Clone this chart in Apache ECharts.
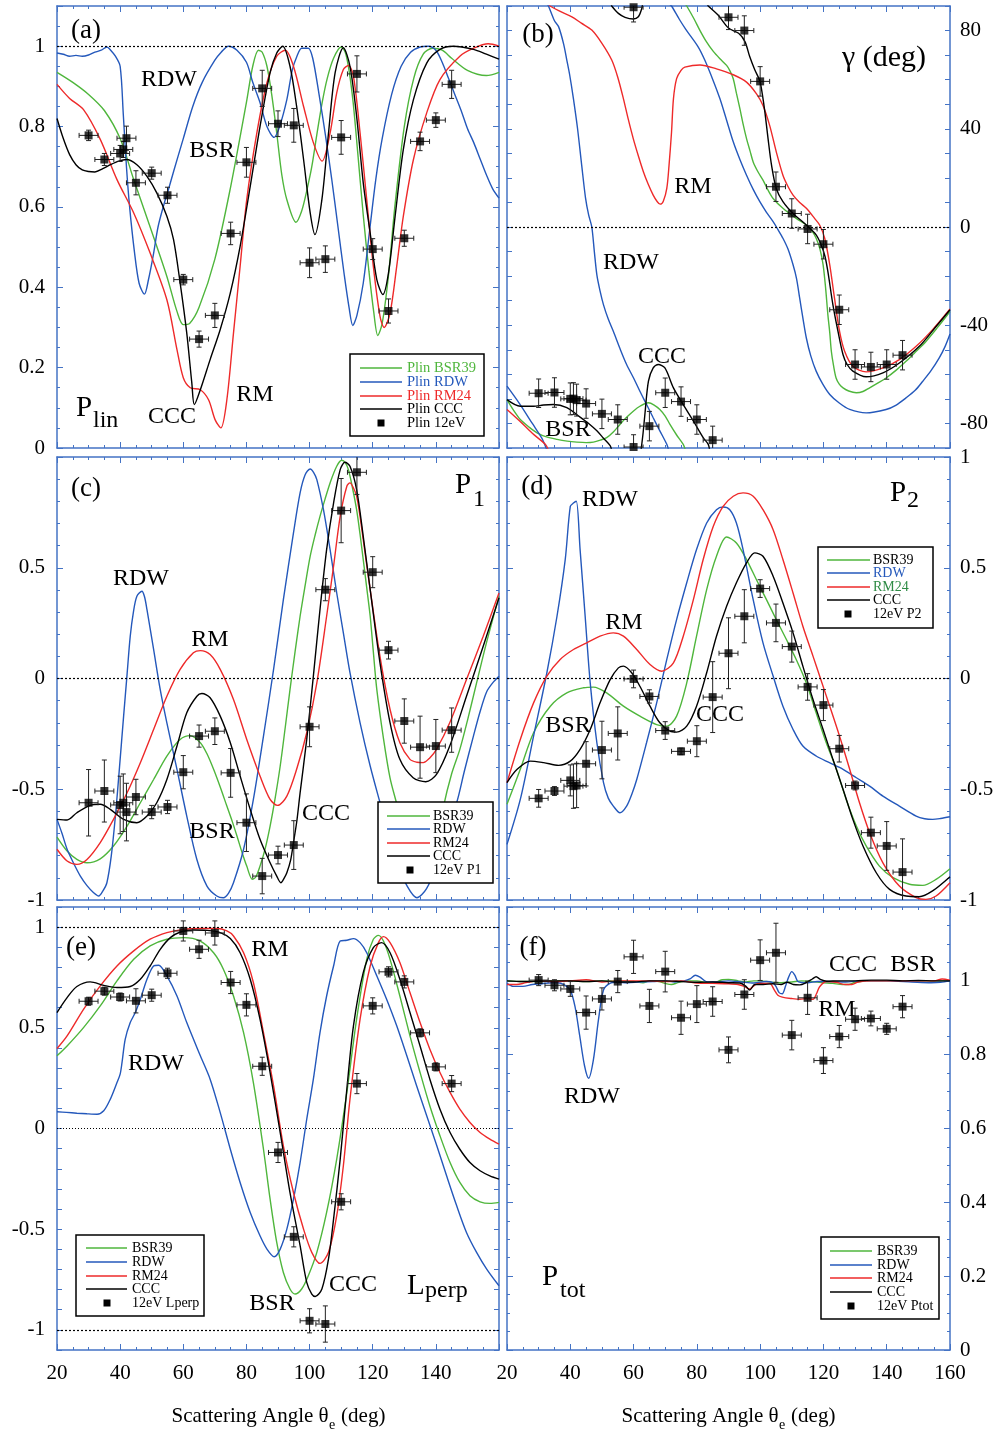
<!DOCTYPE html>
<html>
<head>
<meta charset="utf-8">
<title>Polarization parameters vs scattering angle</title>
<script src="https://cdn.jsdelivr.net/npm/echarts@6/dist/echarts.min.js"></script>
<style>
html,body{margin:0;padding:0;background:#fff;}
#chart{width:998px;height:1436px;}
</style>
</head>
<body>
<div id="chart"></div>
<script>
// ---------------- measured 12 eV points: angle, value, vertical error ----------------
const X_ERR = 3; // angular resolution (deg), drawn as horizontal error bar

const aAng = [30,35,40,41,42,45,50,55,60,65,70,75,80,85,90,95,100,105,110,115,120,125,130,135,140,145];
const aVal = [0.778,0.718,0.733,0.743,0.771,0.66,0.684,0.629,0.419,0.271,0.330,0.534,0.711,0.895,0.807,0.803,0.461,0.470,0.773,0.931,0.495,0.341,0.522,0.763,0.816,0.905];
const aErr = [0.013,0.015,0.02,0.02,0.03,0.03,0.015,0.02,0.013,0.02,0.03,0.028,0.037,0.045,0.032,0.042,0.037,0.033,0.042,0.045,0.026,0.03,0.02,0.023,0.018,0.035];

const bAng = [30,35,40,41,42,45,50,55,60,60,65,70,75,80,85,90,95,100,105,110,115,120,125,130,135,140,145];
const bVal = [-67.7,-67.4,-70.0,-69.9,-70.5,-71.9,-76.1,-78.4,-89.6,89.5,-81.1,-67.5,-71.1,-78.4,-86.8,85.4,80.0,59.3,16.4,5.5,-0.8,-7.0,-33.7,-56.0,-57.0,-56.0,-52.2];
const bErr = [5.8,6,6.5,6.5,6.5,6,6,6,5,6,6,6,6,6,5.7,5,6,6,6,6,6,6,6,6,6,6,6];

const cAng = [30,35,40,41,42,45,50,55,60,65,70,75,80,85,90,95,100,105,110,115,120,125,130,135,140,145];
const cVal = [-0.561,-0.508,-0.571,-0.561,-0.603,-0.535,-0.603,-0.58,-0.423,-0.26,-0.238,-0.426,-0.651,-0.892,-0.797,-0.752,-0.218,0.401,0.758,0.931,0.48,0.128,-0.192,-0.31,-0.305,-0.233];
const cErr = [0.15,0.14,0.13,0.13,0.13,0.08,0.03,0.03,0.075,0.05,0.06,0.11,0.13,0.08,0.04,0.11,0.09,0.05,0.145,0.1,0.07,0.04,0.1,0.14,0.12,0.1];

const dAng = [30,35,40,41,42,45,50,55,60,65,70,75,80,85,90,95,100,105,110,115,120,125,130,135,140,145];
const dVal = [-0.541,-0.508,-0.46,-0.486,-0.483,-0.385,-0.323,-0.248,-0.002,-0.081,-0.235,-0.329,-0.283,-0.084,0.114,0.281,0.406,0.251,0.144,-0.038,-0.12,-0.317,-0.483,-0.696,-0.756,-0.874];
const dErr = [0.04,0.02,0.07,0.1,0.1,0.1,0.13,0.12,0.04,0.03,0.04,0.015,0.07,0.16,0.16,0.12,0.04,0.085,0.07,0.06,0.07,0.06,0.02,0.07,0.11,0.15];

const eAng = [30,35,40,45,50,55,60,65,70,75,80,85,90,95,100,105,110,115,120,125,130,135,140,145];
const eVal = [0.632,0.682,0.653,0.634,0.662,0.771,0.981,0.89,0.971,0.725,0.614,0.309,-0.119,-0.538,-0.955,-0.971,-0.364,0.223,0.609,0.778,0.728,0.475,0.306,0.223];
const eErr = [0.02,0.02,0.02,0.06,0.03,0.025,0.05,0.045,0.06,0.055,0.055,0.045,0.05,0.05,0.06,0.09,0.04,0.05,0.04,0.025,0.03,0.02,0.02,0.04];

const fAng = [30,35,40,45,50,55,60,65,70,75,80,85,90,95,100,105,110,115,120,125,130,135,140,145];
const fVal = [1.002,0.988,0.978,0.914,0.951,0.998,1.065,0.932,1.025,0.9,0.937,0.944,0.813,0.963,1.056,1.076,0.853,0.954,0.784,0.849,0.896,0.898,0.87,0.93];
const fErr = [0.015,0.015,0.02,0.045,0.03,0.03,0.045,0.045,0.055,0.045,0.05,0.04,0.035,0.04,0.055,0.08,0.04,0.045,0.035,0.03,0.03,0.02,0.015,0.03];

// ---------------- theory curves [angle, value] ----------------
// (a) P_lin
const aBSR = [[20,0.935],[25,0.91],[30,0.88],[35,0.84],[40,0.77],[44.3,0.668],[49.5,0.55],[54.8,0.427],[58,0.34],[60,0.307],[62,0.31],[65,0.35],[70,0.47],[75,0.65],[80,0.86],[82,0.95],[83.8,0.99],[85,0.985],[86.5,0.95],[88,0.88],[89.6,0.784],[91.2,0.68],[92.8,0.618],[95.7,0.562],[97.5,0.59],[99.1,0.64],[100.7,0.7],[102.3,0.78],[104,0.86],[105.6,0.92],[107.6,0.97],[110,0.998],[111.3,0.985],[112.5,0.94],[113.8,0.86],[115.2,0.74],[117,0.58],[118.8,0.44],[120.3,0.34],[121.6,0.28],[123,0.31],[125,0.43],[127,0.6],[130,0.8],[133,0.92],[136,0.98],[139,0.995],[142,0.99],[145,0.97],[150,0.94],[156,0.927],[160,0.935]];
const aRDW = [[20,0.983],[22,0.98],[24,0.975],[26,0.977],[28,0.975],[30,0.978],[32,0.985],[34,0.99],[35.8,0.998],[37,0.99],[38.5,0.975],[40,0.95],[41,0.83],[42,0.7],[43,0.6],[44.5,0.49],[46,0.41],[47.7,0.383],[49,0.42],[50.5,0.48],[52,0.55],[54,0.61],[55,0.635],[57,0.69],[60,0.77],[63,0.85],[66,0.91],[70,0.965],[72,0.985],[74.3,1.0],[77,0.99],[80,0.96],[82,0.91],[84.3,0.86],[86.5,0.8],[88.8,0.773],[90.5,0.8],[92.8,0.867],[94.5,0.94],[96,0.975],[97.5,0.995],[99.6,0.995],[101,0.97],[103,0.88],[105,0.78],[107,0.67],[109,0.55],[111,0.43],[112.5,0.35],[113.7,0.305],[115,0.33],[117,0.41],[119,0.54],[121,0.67],[123,0.77],[126,0.88],[129,0.95],[132,0.985],[135,0.998],[137.6,1.0],[140,0.99],[142,0.96],[144,0.92],[146,0.88],[148,0.84],[150,0.795],[152,0.76],[154,0.72],[156,0.68],[158,0.645],[160,0.622]];
const aRM = [[20,0.905],[24,0.87],[28.4,0.842],[33.7,0.768],[39,0.668],[44.3,0.585],[49.5,0.485],[54.8,0.369],[58,0.245],[60,0.175],[62.2,0.15],[65.4,0.145],[68,0.12],[70.1,0.07],[71.9,0.05],[73.8,0.12],[75.9,0.286],[78,0.452],[80.1,0.618],[83.3,0.784],[86.5,0.909],[89.6,0.975],[92.3,0.99],[94.9,0.95],[98.1,0.85],[101.2,0.76],[104,0.714],[106.5,0.784],[108.6,0.884],[110.7,0.942],[112.3,0.952],[113.9,0.925],[116,0.784],[118.1,0.618],[120.2,0.452],[122.3,0.328],[123.6,0.3],[125.5,0.336],[127.6,0.452],[129.7,0.577],[132.9,0.718],[137.1,0.834],[141.3,0.917],[147.6,0.975],[152,0.995],[156.6,1.006],[160,1.0]];
const aCCC = [[20,0.82],[22,0.77],[24,0.73],[26,0.705],[28,0.692],[30,0.688],[32,0.687],[34.5,0.695],[36.9,0.705],[39.5,0.714],[42,0.718],[45.3,0.705],[48.5,0.676],[51.6,0.635],[54.8,0.577],[56.9,0.519],[59,0.411],[61.1,0.286],[62.7,0.162],[63.5,0.108],[65.4,0.145],[68.5,0.22],[71.7,0.295],[74.9,0.386],[78,0.502],[81.2,0.651],[84.3,0.8],[87.5,0.934],[89.6,0.983],[91.5,1.0],[93.8,0.95],[95.9,0.85],[98.1,0.718],[100.2,0.585],[101.7,0.531],[103.9,0.618],[106,0.784],[108.1,0.934],[110.7,0.996],[112.8,0.95],[114.9,0.826],[117,0.66],[119.2,0.535],[121.3,0.419],[123.2,0.382],[125,0.436],[127.1,0.577],[129.7,0.743],[132.9,0.867],[137.1,0.958],[141.3,0.992],[145.5,1.0],[151.9,0.992],[156,0.98],[160,0.968]];

// (b) gamma (deg); [angle, null] marks where the phase wraps between -90 and +90
const bBSR = [[20,-70.3],[22,-74.5],[24.2,-78.4],[27,-81.5],[29.5,-83.8],[32.5,-85.5],[35.8,-86.5],[39,-87.2],[42.1,-87.6],[45,-87.8],[47.3,-87.6],[49.5,-86.8],[51.5,-85.8],[53.6,-83.5],[55.7,-80.4],[57.8,-77.5],[59.9,-75],[62,-73],[64.7,-71.6],[66.5,-72.5],[68.3,-74.3],[70,-77],[71.5,-80.4],[73.5,-84.5],[75.7,-88.5],[76.3,-90.5],[76.4,null],
  [76.5,90.5],[76.8,90],[79,85],[81,80],[83,75.5],[85.2,71.5],[87.3,68.5],[89.4,65.8],[90.5,63.5],[91.5,60.4],[92.5,54.5],[93.6,48.2],[94.6,42],[95.7,36],[96.8,31],[97.8,26.5],[99.3,22.5],[100.9,19.1],[102.5,15],[104.1,11.6],[107.2,7.6],[111.4,3.5],[114.6,0.8],[116.3,-1.5],[117.7,-4.6],[118.9,-9],[119.9,-15.4],[120.7,-25],[121.4,-35.7],[122,-43],[122.5,-50.6],[123.2,-56.5],[124,-61.5],[125,-64],[126.2,-65.5],[128,-66.8],[130.4,-67.5],[132.5,-67],[134.6,-65.5],[137,-63.7],[139.8,-61.5],[143,-58.3],[146.1,-54.7],[149,-51],[152.4,-46.6],[156,-41],[160,-34.4]];
const bRDW = [[20,-64.8],[24,-72],[28,-80],[31,-86],[32.5,-90.5],[32.6,null],
  [32.8,90.5],[33.1,90],[35,84],[36.3,81.6],[37.9,74.5],[38.9,68],[39.8,62],[41,52.2],[42.3,40],[43.6,25.2],[44.8,12],[45.8,4.9],[46.8,0],[47.6,-10],[48.4,-19.5],[49.4,-26],[50.5,-31.7],[52,-37.5],[53.6,-42.5],[55.7,-49.5],[57.8,-56],[60,-61.5],[62,-66.9],[64,-72],[66.2,-77.7],[68.3,-83],[70.5,-88.5],[71,-90.5],[71.2,null],
  [71.5,90.5],[72,90],[74.5,84.5],[76.5,80.5],[80.4,73.4],[82.5,68],[85.2,59.5],[87.3,52.2],[89.4,43.5],[91.5,34.7],[93.6,27.5],[95.7,21.1],[97.8,15.3],[99.9,10.3],[102,6],[104.1,2.2],[105.6,-1],[107.2,-4.6],[108.8,-9],[110.4,-15.4],[111.5,-21],[112.5,-29],[113.5,-37],[114.6,-45.2],[116,-52.5],[117.7,-58.7],[119.8,-64],[122,-68.2],[125,-71.7],[128.3,-74.3],[133.5,-75.7],[139.8,-74.3],[143,-72.5],[146.1,-69.6],[149,-66.5],[151.4,-62.8],[154,-58.5],[156.6,-53.3],[158.5,-48.5],[160,-43.6]];
const bRM = [[20,-74.3],[24,-79],[28,-84],[32.1,-88.5],[33,-90.5],[33.1,null],
  [33.3,90.5],[33.6,90],[36.5,88],[40.5,85.6],[43.5,83],[46.8,80.2],[50,74.8],[53.1,68],[55,61],[56.8,52.2],[58.3,44],[59.9,36],[61.5,29],[63.1,22.5],[64.6,17.5],[66.2,13],[67.5,10.3],[68.4,9.3],[69.4,10.5],[70.5,15.7],[71.2,25],[72,38.7],[72.6,52.2],[73.6,60.4],[75,63.8],[76.2,65.1],[81,66],[86.2,64.4],[91.5,62],[95.7,59],[98.8,54.3],[100.9,49.5],[103,41.4],[105.1,30.6],[107.2,21.1],[108.8,16.5],[110.4,13],[112.5,10],[114.6,7.6],[117.2,3.5],[118.8,0.8],[120.4,-4.6],[122,-15.4],[123.5,-29],[125.1,-42.5],[126.7,-50.6],[129.3,-56.7],[133.5,-59],[138.8,-57.4],[144,-54],[149.3,-48.6],[154.5,-41.8],[160,-33.4]];
const bCCC = [[20,-70.3],[24.2,-73],[28.4,-73],[31.5,-72.5],[34.7,-72.3],[38.9,-73.6],[43.1,-77.4],[45.8,-80],[48.4,-83],[50.5,-86],[52.6,-89],[53,-90.5],[53.05,null],
  [53,90.5],[53.1,90],[55.2,87],[57.3,85.4],[59.9,84.7],[61.5,85.6],[62.6,89],[62.8,90.5],[62.6,null],
  [62.4,-90.5],[63,-84],[63.6,-76],[64.7,-62.8],[66.2,-57.4],[67.8,-56],[69.9,-57.4],[72.6,-65.5],[75.7,-72.3],[78.9,-79],[82,-85.8],[83.6,-88.5],[84,-90.5],[83.7,null],
  [83.4,90.5],[83.6,90],[86.7,86.3],[90,81],[93.2,78.9],[95.2,75.5],[96.7,69.4],[98.3,64],[99.9,59.5],[100.7,54],[101.5,46.8],[102.5,36],[103.6,25.2],[105.1,15.7],[107.2,10.3],[110.4,5.5],[114.6,0.8],[117.7,-3.2],[119.3,-7.3],[120.5,-12],[121.4,-18.1],[123,-31.7],[124.6,-42.5],[126.2,-52],[127.5,-56],[129.3,-58.7],[133.5,-61],[138.8,-59.4],[144,-55.4],[150.3,-48.6],[155.6,-40.5],[160,-33.7]];

// (c) P1
const cBSR = [[20,-0.716],[23.2,-0.779],[26.3,-0.817],[29.5,-0.832],[33.7,-0.814],[37.9,-0.756],[42.2,-0.666],[46.4,-0.561],[50.6,-0.456],[54.8,-0.35],[59,-0.275],[62.2,-0.258],[65.4,-0.29],[67.5,-0.34],[69.6,-0.41],[71.7,-0.49],[73.8,-0.576],[75.5,-0.645],[77,-0.711],[78.5,-0.78],[80.1,-0.847],[81.9,-0.907],[83,-0.895],[84.3,-0.847],[85.9,-0.77],[87.5,-0.666],[89.1,-0.54],[90.7,-0.395],[92.3,-0.22],[93.8,-0.05],[95.4,0.12],[97,0.281],[98.6,0.42],[100.2,0.552],[101.8,0.65],[103.3,0.732],[104.9,0.81],[106.5,0.883],[108.6,0.958],[110.2,0.985],[111.3,0.975],[112.3,0.943],[113.6,0.86],[114.9,0.762],[116,0.65],[117,0.537],[118.1,0.41],[119.2,0.281],[120.2,0.12],[121.3,-0.05],[123.4,-0.27],[125.5,-0.45],[127.5,-0.56],[130,-0.7],[132,-0.8],[134,-0.87],[136,-0.9],[138,-0.87],[140,-0.78],[142.4,-0.58],[145,-0.43],[147.6,-0.32],[150,-0.19],[152.9,-0.02],[156,0.16],[160,0.371]];
const cRDW = [[20,-0.636],[21.6,-0.7],[23.2,-0.771],[25.3,-0.835],[27.4,-0.892],[29.5,-0.935],[31.6,-0.967],[33.2,-0.982],[34.5,-0.96],[35.8,-0.922],[37.2,-0.8],[38.5,-0.621],[39.8,-0.4],[41.1,-0.17],[42.2,0.02],[43.2,0.191],[44.2,0.3],[45.3,0.371],[46.9,0.394],[47.7,0.37],[48.5,0.311],[50.6,0.131],[52.7,-0.05],[54.8,-0.2],[58,-0.41],[61.1,-0.621],[64.3,-0.817],[67.5,-0.937],[70.6,-0.982],[72.7,-0.99],[74.3,-0.97],[75.9,-0.922],[79.1,-0.771],[82.2,-0.546],[85.4,-0.26],[88.6,0.041],[91.7,0.356],[94.9,0.657],[97,0.838],[98.6,0.92],[100.2,0.946],[101.3,0.93],[102.3,0.898],[104.4,0.762],[106.5,0.582],[108.6,0.386],[110.7,0.206],[112.8,0.026],[116,-0.2],[119.2,-0.395],[122.3,-0.56],[125,-0.7],[128,-0.84],[131,-0.94],[134,-0.99],[137,-0.95],[140,-0.85],[143,-0.7],[146.6,-0.56],[149,-0.42],[151.9,-0.26],[154,-0.15],[156.1,-0.06],[158,-0.02],[160,0.01]];
const cRM = [[20,-0.771],[23.2,-0.824],[26.3,-0.839],[29.5,-0.817],[33.7,-0.741],[37.9,-0.636],[42.2,-0.516],[46.4,-0.38],[50.6,-0.23],[54.8,-0.08],[59,0.041],[63.2,0.116],[65.4,0.126],[68.5,0.108],[71.7,0.041],[75.9,-0.095],[80.1,-0.275],[84.3,-0.44],[87.5,-0.546],[89.9,-0.573],[92.8,-0.531],[95.9,-0.41],[99.1,-0.245],[102.3,-0.02],[105.4,0.281],[107.6,0.507],[109.7,0.732],[111.8,0.868],[112.8,0.883],[113.9,0.86],[114.9,0.823],[116,0.73],[117,0.627],[119.2,0.401],[122.3,0.1],[125.5,-0.14],[128.6,-0.29],[131.8,-0.365],[134,-0.378],[136,-0.38],[138,-0.36],[140.2,-0.32],[144.4,-0.2],[149.7,-0.005],[155,0.191],[160,0.386]];
const cCCC = [[20,-0.636],[23.2,-0.639],[26.3,-0.606],[30.5,-0.573],[33.7,-0.568],[36.9,-0.591],[41.1,-0.636],[45.3,-0.651],[48.5,-0.621],[51.6,-0.561],[54.8,-0.456],[58,-0.305],[61.1,-0.155],[64.3,-0.08],[65.9,-0.068],[68.5,-0.087],[71.7,-0.17],[74.9,-0.29],[78,-0.44],[81.2,-0.591],[84.3,-0.726],[87.5,-0.832],[89.6,-0.892],[90.9,-0.922],[92,-0.9],[92.8,-0.877],[94,-0.82],[94.9,-0.741],[96,-0.64],[97,-0.516],[99.1,-0.275],[101.2,0.011],[103.3,0.311],[105.4,0.582],[107.6,0.792],[109.7,0.943],[111.2,0.976],[112.8,0.958],[114.9,0.853],[117,0.642],[119.2,0.401],[122.3,0.071],[125.5,-0.2],[128.6,-0.365],[132.8,-0.448],[136.8,-0.466],[140.2,-0.433],[144.4,-0.305],[149.7,-0.08],[155,0.146],[160,0.364]];

// (d) P2
const dBSR = [[20,-0.568],[24.2,-0.41],[28.4,-0.245],[33.7,-0.125],[38.9,-0.065],[44.2,-0.042],[47.3,-0.039],[51.5,-0.065],[56.8,-0.125],[62,-0.17],[67.3,-0.208],[70.5,-0.215],[73.6,-0.17],[76.8,-0.02],[79.9,0.191],[83.1,0.401],[86.2,0.552],[89.4,0.639],[92.5,0.612],[95.7,0.537],[98.8,0.447],[102,0.356],[105.1,0.266],[108.3,0.176],[111.4,0.086],[114.6,-0.02],[117.7,-0.155],[120.9,-0.29],[124.1,-0.41],[127.2,-0.546],[130.4,-0.666],[133.5,-0.756],[137.7,-0.847],[142,-0.899],[147.2,-0.929],[151.4,-0.934],[155.6,-0.907],[160,-0.859]];
const dRDW = [[20,-0.749],[24.2,-0.546],[28.4,-0.26],[32.6,0.026],[35.8,0.281],[38.4,0.537],[40,0.777],[41,0.792],[41.9,0.8],[43.1,0.582],[44.7,0.281],[46.3,-0.02],[48.4,-0.29],[50.5,-0.47],[52,-0.54],[53.6,-0.576],[55.7,-0.606],[57.8,-0.576],[59.5,-0.52],[61,-0.456],[64.1,-0.29],[67.3,-0.11],[70.5,0.086],[73.6,0.266],[76.8,0.432],[79.9,0.582],[83.1,0.702],[86.2,0.762],[88.3,0.774],[90.4,0.762],[92.5,0.702],[94.6,0.582],[97.8,0.356],[100.9,0.161],[104.1,0.011],[107.2,-0.125],[110.4,-0.23],[113.5,-0.305],[117.7,-0.35],[121.9,-0.38],[126.2,-0.41],[130.4,-0.448],[134.6,-0.486],[138.8,-0.531],[144,-0.576],[149.3,-0.621],[152,-0.633],[154.5,-0.636],[157,-0.632],[160,-0.624]];
const dRM = [[20,-0.47],[24.2,-0.275],[28.4,-0.11],[32.6,0.011],[36.8,0.086],[41,0.131],[45.2,0.161],[49.4,0.191],[53.6,0.206],[56.8,0.191],[61,0.131],[65.2,0.063],[68.9,0.033],[72.6,0.071],[75.7,0.191],[78.9,0.356],[82,0.537],[85.2,0.687],[88.3,0.777],[91.5,0.823],[94.6,0.838],[97.8,0.823],[100.9,0.762],[104.1,0.672],[107.2,0.537],[110.4,0.386],[113.5,0.236],[116.7,0.101],[118.8,0.011],[122,-0.125],[125.1,-0.26],[128.3,-0.41],[131.4,-0.561],[134.6,-0.696],[138.8,-0.832],[144,-0.937],[149.3,-0.989],[152.4,-0.997],[155.6,-0.982],[160,-0.922]];
const dCCC = [[20,-0.47],[23.2,-0.41],[27.4,-0.373],[31.6,-0.38],[36.3,-0.392],[40,-0.373],[43.1,-0.32],[46.3,-0.23],[49.4,-0.11],[52.6,-0.005],[55.2,0.048],[56.8,0.056],[59.4,0.026],[62,-0.035],[65.2,-0.125],[68.3,-0.2],[71.5,-0.238],[73.6,-0.242],[76.8,-0.215],[79.9,-0.125],[83.1,0.026],[86.2,0.191],[89.4,0.326],[92.5,0.432],[95.7,0.522],[98.3,0.567],[100.9,0.552],[104.1,0.462],[107.2,0.341],[110.4,0.206],[113.5,0.056],[116.7,-0.095],[119.9,-0.23],[123,-0.365],[126.2,-0.5],[129.3,-0.636],[132.5,-0.756],[136.7,-0.877],[140.9,-0.952],[146.1,-0.982],[150.3,-0.985],[154.5,-0.959],[160,-0.895]];

// (e) L_perp
const eBSR = [[20,0.361],[23.2,0.41],[28.4,0.501],[33.7,0.609],[39,0.733],[44.3,0.84],[49.5,0.907],[54.8,0.94],[60.1,0.948],[65.4,0.931],[69.6,0.873],[72.7,0.791],[75.9,0.658],[79.1,0.476],[82.2,0.228],[85.4,-0.103],[87.5,-0.351],[89.6,-0.566],[91.7,-0.715],[93.8,-0.797],[95.4,-0.822],[97.5,-0.797],[99.6,-0.731],[102.3,-0.615],[105.4,-0.417],[108.6,-0.152],[111.8,0.179],[114.9,0.543],[118.1,0.84],[120.2,0.94],[121.8,0.959],[123.4,0.931],[125.5,0.84],[128.6,0.658],[131.8,0.46],[135,0.278],[138.1,0.112],[141.3,-0.036],[144.5,-0.169],[147.6,-0.268],[150.8,-0.334],[154,-0.364],[157.1,-0.372],[160,-0.367]];
const eRDW = [[20,0.083],[23,0.08],[26.3,0.076],[29.5,0.073],[32.7,0.071],[34.8,0.088],[36.9,0.146],[39,0.228],[40,0.27],[40.6,0.328],[41.6,0.443],[43.2,0.526],[44.8,0.576],[46.4,0.642],[48.5,0.741],[50.6,0.807],[52.2,0.811],[54.8,0.758],[58,0.658],[61.1,0.526],[65.4,0.361],[68.5,0.245],[71.7,0.079],[74.9,-0.103],[78,-0.268],[81.2,-0.417],[84.3,-0.533],[86.5,-0.599],[88.8,-0.637],[90.7,-0.599],[92.8,-0.5],[94.9,-0.351],[97,-0.169],[99.1,0.046],[101.2,0.245],[103.3,0.476],[105.4,0.658],[107.6,0.807],[109.7,0.931],[111.8,0.935],[113.9,0.943],[116,0.923],[118.1,0.873],[121.3,0.758],[124.4,0.642],[127.6,0.51],[130.8,0.361],[133.9,0.212],[137.1,0.063],[140.3,-0.086],[143.4,-0.235],[146.6,-0.384],[149.7,-0.516],[152.9,-0.615],[156.1,-0.698],[160,-0.781]];
const eRM = [[20,0.397],[23.2,0.46],[28.4,0.592],[33.7,0.708],[39,0.807],[44.3,0.882],[49.5,0.94],[54.8,0.973],[60.1,0.989],[65.4,0.993],[70.6,0.993],[73.8,0.981],[75.9,0.956],[79.1,0.873],[82.2,0.725],[85.4,0.476],[88.6,0.212],[91.7,-0.086],[94.9,-0.318],[98.1,-0.5],[100.7,-0.615],[103.3,-0.67],[106,-0.615],[108.6,-0.433],[110.7,-0.185],[112.8,0.146],[116,0.543],[119.2,0.807],[121.8,0.923],[123.4,0.953],[125.5,0.923],[128.6,0.824],[131.8,0.675],[135,0.526],[138.1,0.394],[141.3,0.278],[144.5,0.179],[147.6,0.096],[150.8,0.03],[154,-0.02],[157.1,-0.053],[160,-0.078]];
const eCCC = [[20,0.576],[23.2,0.65],[26.3,0.705],[30.5,0.728],[34.8,0.711],[39,0.7],[43.2,0.705],[46.4,0.741],[49.5,0.807],[52.7,0.89],[55.9,0.948],[59.1,0.976],[63.2,0.986],[67.5,0.984],[71.7,0.973],[74.9,0.943],[78,0.873],[81.2,0.741],[84.3,0.543],[87.5,0.278],[90.7,-0.02],[93.8,-0.318],[97,-0.582],[99.1,-0.764],[100.7,-0.822],[101.8,-0.834],[103.9,-0.797],[106,-0.648],[107.6,-0.45],[109.7,-0.152],[111.8,0.195],[113.9,0.51],[117,0.774],[120.2,0.898],[122.8,0.923],[125.5,0.873],[128.6,0.741],[131.8,0.576],[135,0.41],[138.1,0.245],[141.3,0.096],[144.5,-0.02],[147.6,-0.103],[150.8,-0.169],[154,-0.21],[157.1,-0.235],[160,-0.251]];

// (f) P_tot
const fBSR = [[20,1.0],[25,0.998],[30,0.998],[35,1.0],[40,1.0],[45,0.998],[50,1.0],[55,1.0],[60,0.998],[63,0.995],[65,1.0],[68,0.998],[70,0.993],[72,0.99],[74,0.995],[77,1.0],[80,1.0],[83,0.995],[85,0.993],[88,1.003],[90,1.004],[93,1.0],[95,0.997],[98,1.0],[100,1.0],[103,0.997],[106,0.995],[110,0.997],[113,1.0],[116,0.998],[120,0.995],[123,0.993],[126,0.99],[128,0.99],[130,0.996],[135,1.0],[140,1.0],[150,1.0],[160,1.0]];
const fRDW = [[20,0.993],[22,0.985],[25,0.985],[28,0.99],[31,0.992],[34,0.995],[36,0.995],[38,0.99],[40,0.975],[41.5,0.93],[43,0.85],[44.5,0.77],[45.8,0.736],[47.3,0.786],[48.9,0.894],[50.5,0.975],[52.5,0.993],[55,0.996],[58,0.995],[62,0.997],[66,0.998],[70,1.0],[73,0.997],[76,1.0],[78,1.006],[79.5,1.015],[81,1.01],[83,0.998],[86,0.997],[90,1.0],[94,0.997],[98,0.994],[102,0.998],[104,0.995],[105,0.985],[106,0.968],[107,0.965],[108,0.985],[109,1.01],[110,1.025],[111,1.015],[112,0.998],[115,0.995],[118,0.998],[122,0.998],[127,0.997],[132,1.0],[140,1.0],[148,0.997],[154,0.995],[157,0.996],[160,1.0]];
const fRM = [[20,0.99],[23,0.99],[26,0.995],[30,1.0],[35,0.998],[40,1.0],[45,1.003],[50,0.997],[55,1.0],[60,1.0],[65,1.0],[70,0.998],[75,1.0],[80,0.994],[85,0.993],[90,0.992],[93,0.99],[95,0.985],[96.7,0.978],[98.5,0.99],[100,0.993],[103,0.993],[104.5,0.975],[105.6,0.961],[107,0.956],[110,0.952],[112.5,0.95],[115,0.952],[116.7,0.95],[117.8,0.965],[118.8,0.984],[121,0.998],[124,0.996],[127,0.99],[129,0.99],[131,0.997],[135,1.0],[140,1.0],[145,1.0],[150,1.0],[155,1.0],[157.5,1.005],[160,1.002]];
const fCCC = [[20,1.0],[25,0.998],[30,0.999],[35,1.0],[40,1.0],[45,0.998],[50,1.0],[55,0.997],[60,0.997],[65,1.0],[70,1.0],[75,0.998],[80,0.996],[85,0.997],[90,0.995],[93.6,0.994],[95.5,0.985],[96.7,0.975],[98.3,0.99],[101,0.99],[104,0.992],[106.6,0.99],[108.5,0.996],[110.5,0.99],[112.5,0.989],[114.5,0.995],[116.5,1.005],[117.7,1.011],[119,1.004],[121,0.999],[125,1.0],[130,1.0],[135,1.002],[140,1.002],[145,1.0],[150,1.001],[155,1.0],[160,1.0]];

// ---------------- styling ----------------
const FONT = '"Liberation Serif", "Times New Roman", Times, serif';
const FRAME = '#4473c5';
const C_BSR = '#4fb63c', C_RDW = '#2458bb', C_RM = '#ee2a2a', C_CCC = '#000000';
const LINE_W = 1.4;

// panel frames and axis settings
const panels = [
  { key:'a', grid:{left:57, top:6, width:442, height:442}, y:{min:0, max:1.1, interval:0.2, minor:4, tick:6},
    side:'left', showY:v => v <= 1.0001, xLabels:false,
    curves:[aBSR,aRDW,aRM,aCCC], pts:[aAng,aVal,aErr], refs:[{yAxis:1}] },
  { key:'b', grid:{left:507, top:6, width:443, height:442}, y:{min:-90, max:90, interval:10, minor:0, tick:5},
    side:'right', showY:v => v % 40 === 0 && Math.abs(v) <= 80, xLabels:false,
    curves:[bBSR,bRDW,bRM,bCCC], pts:[bAng,bVal,bErr], refs:[{yAxis:0}] },
  { key:'c', grid:{left:57, top:457, width:442, height:443}, y:{min:-1, max:1, interval:0.5, minor:5, tick:6},
    side:'left', showY:v => v < 0.9999, xLabels:false,
    curves:[cBSR,cRDW,cRM,cCCC], pts:[cAng,cVal,cErr], refs:[{yAxis:0}] },
  { key:'d', grid:{left:507, top:457, width:443, height:443}, y:{min:-1, max:1, interval:0.5, minor:5, tick:6},
    side:'right', showY:v => true, xLabels:false,
    curves:[dBSR,dRDW,dRM,dCCC], pts:[dAng,dVal,dErr], refs:[{yAxis:0}] },
  { key:'e', grid:{left:57, top:907, width:442, height:443}, y:{min:-1.1, max:1.1, interval:0.1, minor:0, tick:5},
    side:'left', showY:v => Math.abs(v*2 - Math.round(v*2)) < 1e-6, xLabels:true, hideLastX:true,
    curves:[eBSR,eRDW,eRM,eCCC], pts:[eAng,eVal,eErr],
    refs:[{yAxis:1},{yAxis:0, lineStyle:{type:[1,2], width:1}},{yAxis:-1}] },
  { key:'f', grid:{left:507, top:907, width:443, height:443}, y:{min:0, max:1.2, interval:0.2, minor:4, tick:6},
    side:'right', showY:v => v <= 1.0001, xLabels:true, hideLastX:false,
    curves:[fBSR,fRDW,fRM,fCCC], pts:[fAng,fVal,fErr], refs:[] },
];

const grids = [], xAxes = [], yAxes = [], series = [];

function xAxisCfg(gi, pos, showLabels, hideLast) {
  return {
    type:'value', gridIndex:gi, position:pos, min:20, max:160, interval:20,
    axisLine:{show:true, onZero:false, lineStyle:{color:FRAME, width:1.5}},
    axisTick:{show:true, inside:true, length:6, lineStyle:{color:FRAME, width:1}},
    minorTick:{show:true, splitNumber:4, length:3, lineStyle:{color:FRAME, width:1}},
    splitLine:{show:false}, minorSplitLine:{show:false},
    axisLabel:{show:showLabels, margin:13, color:'#000', fontSize:21, fontFamily:FONT,
      formatter:v => (hideLast && v === 160) ? '' : String(v)}
  };
}
function yAxisCfg(gi, pos, p, showLabels) {
  return {
    type:'value', gridIndex:gi, position:pos, min:p.y.min, max:p.y.max, interval:p.y.interval,
    axisLine:{show:true, onZero:false, lineStyle:{color:FRAME, width:1.5}},
    axisTick:{show:true, inside:true, length:p.y.tick, lineStyle:{color:FRAME, width:1}},
    minorTick:{show:p.y.minor > 0, splitNumber:p.y.minor || 5, length:3, lineStyle:{color:FRAME, width:1}},
    splitLine:{show:false}, minorSplitLine:{show:false},
    axisLabel:{show:showLabels, margin:pos === 'left' ? 12 : 10, color:'#000', fontSize:21, fontFamily:FONT,
      formatter:v => p.showY(v) ? String(+v.toFixed(6)) : ''}
  };
}

function errorBars(params, api) {
  const x = api.value(0), y = api.value(1), dy = api.value(2), dx = api.value(3);
  const hi = api.coord([x, y + dy]), lo = api.coord([x, y - dy]);
  const l = api.coord([x - dx, y]), r = api.coord([x + dx, y]);
  const cap = 2.5;
  const st = {stroke:'#222', lineWidth:1};
  return {type:'group', children:[
    {type:'line', shape:{x1:hi[0], y1:hi[1], x2:lo[0], y2:lo[1]}, style:st},
    {type:'line', shape:{x1:hi[0]-cap, y1:hi[1], x2:hi[0]+cap, y2:hi[1]}, style:st},
    {type:'line', shape:{x1:lo[0]-cap, y1:lo[1], x2:lo[0]+cap, y2:lo[1]}, style:st},
    {type:'line', shape:{x1:l[0], y1:l[1], x2:r[0], y2:r[1]}, style:st},
    {type:'line', shape:{x1:l[0], y1:l[1]-cap, x2:l[0], y2:l[1]+cap}, style:st},
    {type:'line', shape:{x1:r[0], y1:r[1]-cap, x2:r[0], y2:r[1]+cap}, style:st}
  ]};
}

const curveColors = [C_BSR, C_RDW, C_RM, C_CCC];
const curveNames = ['BSR39', 'RDW', 'RM24', 'CCC'];

panels.forEach((p, k) => {
  grids.push(Object.assign({containLabel:false}, p.grid));
  xAxes.push(xAxisCfg(k, 'bottom', p.xLabels, p.hideLastX));
  xAxes.push(xAxisCfg(k, 'top', false, false));
  yAxes.push(yAxisCfg(k, 'left', p, p.side === 'left'));
  yAxes.push(yAxisCfg(k, 'right', p, p.side === 'right'));
  const xi = 2 * k, yi = 2 * k;
  p.curves.forEach((data, j) => {
    const s = {
      type:'line', name:curveNames[j], xAxisIndex:xi, yAxisIndex:yi, data:data,
      showSymbol:false, symbol:'none', smooth:0.3, connectNulls:false, clip:true, silent:true,
      lineStyle:{color:curveColors[j], width:LINE_W}, itemStyle:{color:curveColors[j]}, z:3
    };
    if (j === 0 && p.refs.length) {
      s.markLine = {silent:true, symbol:['none','none'], label:{show:false},
        lineStyle:{color:'#000', type:[2,2], width:1.2}, data:p.refs};
    }
    series.push(s);
  });
  const [ang, val, err] = p.pts;
  series.push({
    type:'custom', name:'err-' + p.key, xAxisIndex:xi, yAxisIndex:yi, clip:true, silent:true, z:4,
    renderItem:errorBars, encode:{x:0, y:1},
    data:ang.map((x, i) => [x, val[i], err[i], X_ERR])
  });
  series.push({
    type:'scatter', name:'12eV', xAxisIndex:xi, yAxisIndex:yi, symbol:'rect', symbolSize:8, silent:true, z:5,
    itemStyle:{color:'#000'}, data:ang.map((x, i) => [x, val[i]])
  });
});

// ---------------- text annotations ----------------
const graphics = [];
function txt(text, x, y, size, opts) {
  opts = opts || {};
  graphics.push({
    type:'text', x:x, y:y, z:60, silent:true,
    style:{text:text, fill:opts.color || '#000', font:size + 'px ' + FONT,
      align:opts.align || 'center', verticalAlign:'middle',
      textAlign:opts.align || 'center', textVerticalAlign:'middle'}
  });
}
[
  ['(a)',86,31,27], ['RDW',169,80,24], ['BSR',212,151,24], ['RM',255,395,24], ['CCC',172,417,24],
  ['(b)',538,35,27], ['γ (deg)',884,58,30], ['RM',693,187,24], ['RDW',631,263,24], ['CCC',662,357,24], ['BSR',568,430,24],
  ['(c)',86,489,27], ['RDW',141,579,24], ['RM',210,640,24], ['BSR',212,832,24], ['CCC',326,814,24],
  ['(d)',537,487,27], ['RDW',610,500,24], ['RM',624,623,24], ['BSR',568,726,24], ['CCC',720,715,24],
  ['(e)',81,948,27], ['RM',270,950,24], ['RDW',156,1064,24], ['BSR',272,1304,24], ['CCC',353,1285,24],
  ['(f)',533,948,27], ['CCC',853,965,24], ['BSR',913,965,24], ['RM',837,1010,24], ['RDW',592,1097,24]
].forEach(t => txt(t[0], t[1], t[2], t[3]));

// quantity symbols with subscripts
txt('P', 76, 408, 29, {align:'left'});    txt('lin', 93, 421, 24, {align:'left'});
txt('P', 455, 485, 29, {align:'left'});   txt('1', 473, 500, 24, {align:'left'});
txt('P', 890, 493, 29, {align:'left'});   txt('2', 907, 501, 24, {align:'left'});
txt('L', 407, 1286, 29, {align:'left'});  txt('perp', 425, 1291, 24, {align:'left'});
txt('P', 542, 1277, 29, {align:'left'});  txt('tot', 560, 1291, 24, {align:'left'});

// x-axis titles: "Scattering Angle θ" + subscript e + "(deg)"
const meas = document.createElement('canvas').getContext('2d');
function tw(t, size) { meas.font = size + 'px ' + FONT; return meas.measureText(t).width; }
[278, 728].forEach(cx => {
  const m1 = 'Scattering Angle θ', m2 = 'e', m3 = ' (deg)';
  const w1 = tw(m1, 21), w2 = tw(m2, 14), w3 = tw(m3, 21);
  const x0 = cx - (w1 + w2 + w3) / 2;
  txt(m1, x0, 1416, 21, {align:'left'});
  txt(m2, x0 + w1 + 0.5, 1425, 14, {align:'left'});
  txt(m3, x0 + w1 + w2 + 1, 1416, 21, {align:'left'});
});

// ---------------- legend boxes ----------------
function legend(box, lx0, lx1, tx, rows, mx, labels, tcolors, fs) {
  graphics.push({type:'rect', z:100, silent:true, shape:{x:box[0], y:box[1], width:box[2], height:box[3]},
    style:{fill:'#fff', stroke:'#000', lineWidth:1.5}});
  for (let i = 0; i < 4; i++) {
    graphics.push({type:'line', z:101, silent:true, shape:{x1:lx0, y1:rows[i], x2:lx1, y2:rows[i]},
      style:{stroke:curveColors[i], lineWidth:1.3}});
  }
  graphics.push({type:'rect', z:101, silent:true, shape:{x:mx - 3.5, y:rows[4] - 3.5, width:7, height:7},
    style:{fill:'#000'}});
  labels.forEach((l, i) => {
    graphics.push({type:'text', z:102, silent:true, x:tx, y:rows[i],
      style:{text:l, fill:tcolors[i], font:fs + 'px ' + FONT, align:'left', verticalAlign:'middle',
        textAlign:'left', textVerticalAlign:'middle'}});
  });
}
legend([350,354,134,82], 360, 402, 407, [368,382,396,409,423], 381,
  ['Plin BSR39','Plin RDW','Plin RM24','Plin CCC','Plin 12eV'], [C_BSR, C_RDW, C_RM, '#000', '#000'], 14.5);
legend([378,802,115,81], 387, 430, 433, [816,829,843,856,870], 410,
  ['BSR39','RDW','RM24','CCC','12eV P1'], ['#000','#000','#000','#000','#000'], 14);
legend([818,547,115,81], 827, 870, 873, [560,573,587,600,614], 848,
  ['BSR39','RDW','RM24','CCC','12eV P2'], ['#000', C_RDW, '#2e8b45', '#000', '#000'], 14);
legend([76,1235,128,81], 86, 127, 132, [1248,1262,1276,1289,1303], 107,
  ['BSR39','RDW','RM24','CCC','12eV Lperp'], ['#000','#000','#000','#000','#000'], 14);
legend([821,1237,118,82], 830, 872, 877, [1251,1265,1278,1292,1306], 851,
  ['BSR39','RDW','RM24','CCC','12eV Ptot'], ['#000','#000','#000','#000','#000'], 14);

const chart = echarts.init(document.getElementById('chart'), null, {renderer:'canvas'});
chart.setOption({
  animation:false,
  backgroundColor:'#ffffff',
  textStyle:{fontFamily:FONT},
  grid:grids, xAxis:xAxes, yAxis:yAxes, series:series,
  graphic:{elements:graphics}
});
</script>
</body>
</html>
